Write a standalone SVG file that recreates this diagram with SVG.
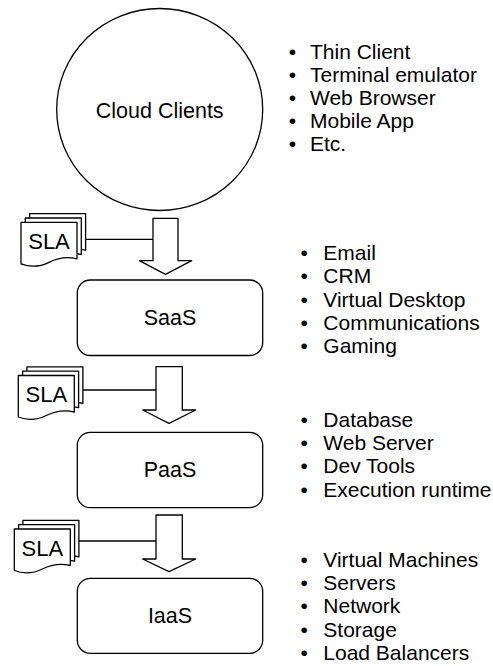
<svg xmlns="http://www.w3.org/2000/svg" xmlns:xlink="http://www.w3.org/1999/xlink" width="493" height="666" viewBox="0 0 493 666">
<style>
.s{fill:#fff;stroke:#000;stroke-width:1.3;stroke-linejoin:round}
.ln{fill:none;stroke:#000;stroke-width:1.3}
text{font-family:"Liberation Sans",Arial,sans-serif;font-size:21.5px;fill:#000}
.c{text-anchor:middle}
.l text{font-size:21px}
</style>
<defs>
<path id="doc" class="s" d="M0,0 H56 V36.5 Q42,33 28,40 Q14,47 0,41.5 Z"/>
<g id="docstack">
<use xlink:href="#doc" x="8.6" y="-8.6"/>
<use xlink:href="#doc" x="4.3" y="-4.3"/>
<use xlink:href="#doc" x="0" y="0"/>
<text class="c" x="28" y="26.5" style="font-size:22px">SLA</text>
</g>
</defs>
<rect width="493" height="666" fill="#fff"/>

<g id="connectors">
<line class="ln" x1="85" y1="239.3" x2="153" y2="239.3"/>
<path class="s" d="M153,218.3 H178 V260.7 H191.7 L165.5,274.3 L139.3,260.7 H153 Z"/>
<line class="ln" x1="83" y1="390" x2="156" y2="390"/>
<path class="s" d="M156,366.7 H182.3 V410 H195.7 L169,423.3 L142.7,410 H156 Z"/>
<line class="ln" x1="79" y1="541" x2="156" y2="541"/>
<path class="s" d="M156,515 H182.3 V559 H195.7 L169,571.7 L142.7,559 H156 Z"/>
</g>

<g id="cloud-clients">
<ellipse class="s" cx="159.7" cy="109.5" rx="103" ry="101"/>
<text class="c" x="159.7" y="118.3">Cloud  Clients</text>
</g>
<g id="saas">
<rect class="s" x="77.3" y="280" width="185.4" height="75.5" rx="13"/>
<text class="c" x="170" y="325">SaaS</text>
</g>
<g id="paas">
<rect class="s" x="77.3" y="432.3" width="185.4" height="75.4" rx="13"/>
<text class="c" x="170" y="477">PaaS</text>
</g>
<g id="iaas">
<rect class="s" x="77.3" y="578.3" width="185.4" height="75" rx="13"/>
<text class="c" x="170" y="623">IaaS</text>
</g>

<g id="sla1"><use xlink:href="#docstack" x="21" y="222.3"/></g>
<g id="sla2"><use xlink:href="#docstack" x="18.3" y="375.5"/></g>
<g id="sla3"><use xlink:href="#docstack" x="14.3" y="529"/></g>

<g id="list-clients" class="l">
<text x="288.7" y="59.3">•<tspan x="310">Thin Client</tspan></text>
<text x="288.7" y="82.3">•<tspan x="310">Terminal emulator</tspan></text>
<text x="288.7" y="105.3">•<tspan x="310">Web Browser</tspan></text>
<text x="288.7" y="128.3">•<tspan x="310">Mobile App</tspan></text>
<text x="288.7" y="151.3">•<tspan x="310">Etc.</tspan></text>
</g>
<g id="list-saas" class="l">
<text x="300.6" y="260">•<tspan x="323.3">Email</tspan></text>
<text x="300.6" y="283.3">•<tspan x="323.3">CRM</tspan></text>
<text x="300.6" y="306.6">•<tspan x="323.3">Virtual Desktop</tspan></text>
<text x="300.6" y="329.9">•<tspan x="323.3">Communications</tspan></text>
<text x="300.6" y="353.2">•<tspan x="323.3">Gaming</tspan></text>
</g>
<g id="list-paas" class="l">
<text x="300.6" y="426.7">•<tspan x="323.3">Database</tspan></text>
<text x="300.6" y="450">•<tspan x="323.3">Web Server</tspan></text>
<text x="300.6" y="473.3">•<tspan x="323.3">Dev Tools</tspan></text>
<text x="300.6" y="496.6">•<tspan x="323.3">Execution runtime</tspan></text>
</g>
<g id="list-iaas" class="l">
<text x="300.6" y="566.7">•<tspan x="323.3">Virtual Machines</tspan></text>
<text x="300.6" y="590">•<tspan x="323.3">Servers</tspan></text>
<text x="300.6" y="613.3">•<tspan x="323.3">Network</tspan></text>
<text x="300.6" y="636.6">•<tspan x="323.3">Storage</tspan></text>
<text x="300.6" y="659.9">•<tspan x="323.3">Load Balancers</tspan></text>
</g>
</svg>
